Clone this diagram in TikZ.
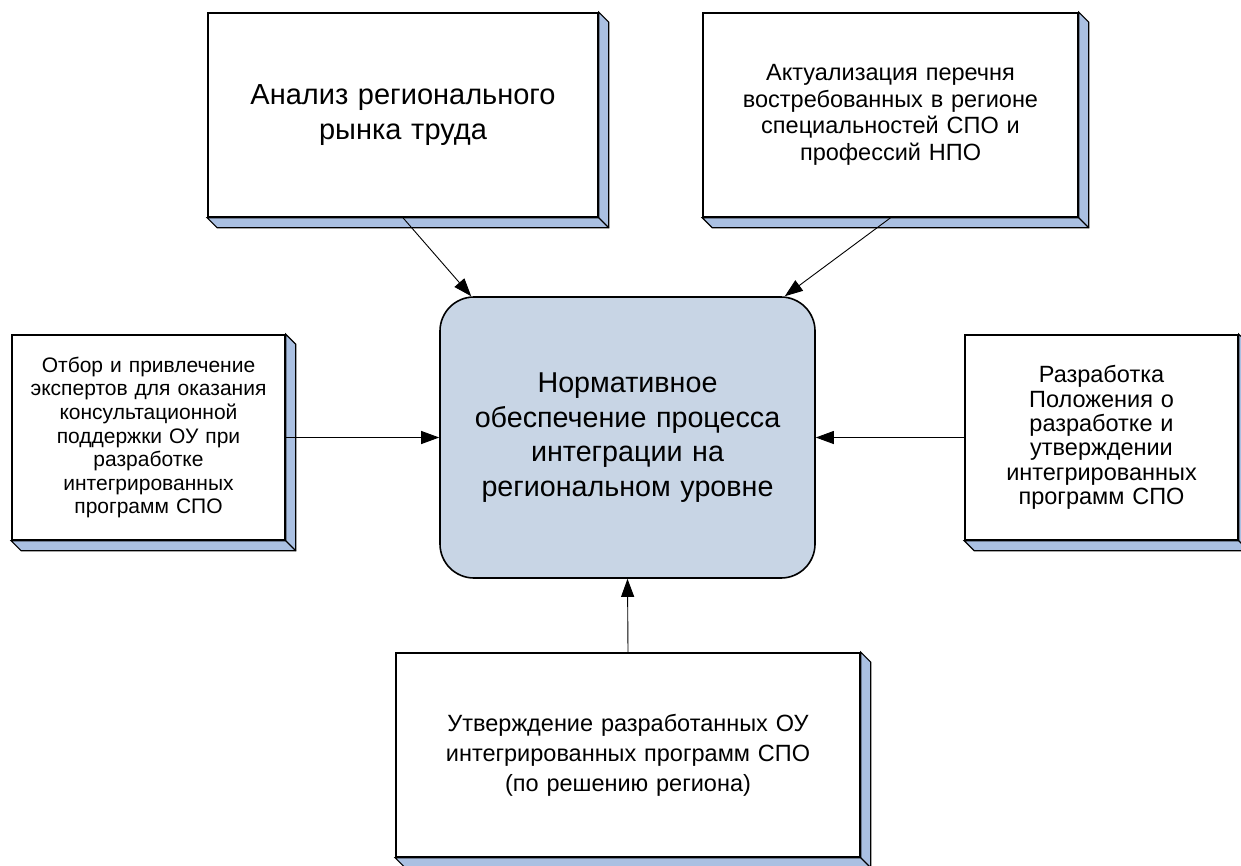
\documentclass[tikz,border=0pt]{standalone}
\usepackage{fontspec}
\setmainfont{Liberation Sans}
\usepackage{tikz}
\usetikzlibrary{arrows.meta,calc,positioning}
\definecolor{depthblue}{RGB}{170,192,226}
\definecolor{corefill}{RGB}{200,213,229}
\tikzset{
  plate/.style={draw, line width=1.6pt, fill=white, align=center, inner sep=0pt},
  core/.style={draw, line width=1.6pt, fill=corefill, align=center, rounded corners=34pt,
    minimum width=375pt, minimum height=281pt, text width=350pt, inner sep=0pt},
  link/.style={line width=0.9pt, -{Triangle[length=18pt,width=13pt]}}
}
% depth strip under and right of a plate
\newcommand{\platedepth}[1]{%
  \filldraw[fill=depthblue, line width=1.2pt]
    (#1.south west) -- ++(10,10) -- ($(#1.south east)+(10,10)$)
    -- ($(#1.north east)+(10,10)$) -- (#1.north east) -- (#1.south east) -- cycle;
  \draw[line width=1.2pt] (#1.south east) -- ++(10,10);
}

\begin{document}
\begin{tikzpicture}[x=1pt, y=-1pt]
    \useasboundingbox (0,0) rectangle (1241,865);

    % Outer plates
    \node[plate, minimum width=390pt, minimum height=204pt, text width=370pt,
          font=\fontsize{29}{35}\selectfont] (ana) at (403,115)
        {Анализ регионального\\рынка труда};
    \node[plate, minimum width=375pt, minimum height=204pt, text width=360pt,
          font=\fontsize{23.5}{26.7}\selectfont] (act) at (890.5,115)
        {Актуализация перечня\\востребованных в регионе\\специальностей СПО и\\профессий НПО};
    \node[plate, minimum width=273pt, minimum height=205pt, text width=268pt,
          font=\fontsize{21}{23.6}\selectfont] (otb) at (148.5,437.5)
        {Отбор и привлечение\\экспертов для оказания\\консультационной\\поддержки ОУ при\\разработке\\интегрированных\\программ СПО};
    \node[plate, minimum width=273pt, minimum height=205pt, text width=268pt,
          font=\fontsize{23.5}{24.4}\selectfont] (raz) at (1101.5,437.5)
        {Разработка\\Положения о\\разработке и\\утверждении\\интегрированных\\программ СПО};
    \node[plate, minimum width=464pt, minimum height=204pt, text width=450pt,
          font=\fontsize{23.5}{30}\selectfont] (utv) at (628,755)
        {Утверждение разработанных ОУ\\интегрированных программ СПО\\(по решению региона)};

    \foreach \p in {ana,act,otb,raz,utv} {\platedepth{\p}}

    % Central block
    \node[core, font=\fontsize{28.7}{34.4}\selectfont] (cen) at (627.5,437.5)
        {Нормативное\\обеспечение процесса\\интеграции на\\региональном уровне};

    % Connectors
    \draw[link] (ana.south) -- ($(cen.north west)+(32,0)$);
    \draw[link] (act.south) -- ($(cen.north east)+(-31,0)$);
    \draw[link] (otb.east) -- (cen.west);
    \draw[link] (raz.west) -- (cen.east);
    \draw[link] (utv.north) -- (cen.south);
\end{tikzpicture}
\end{document}
